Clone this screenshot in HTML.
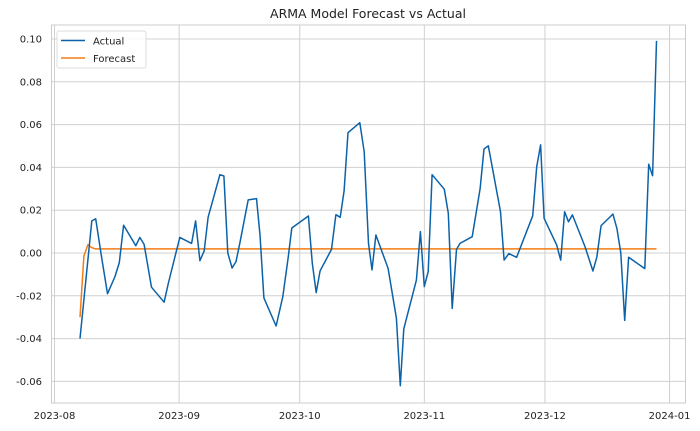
<!DOCTYPE html>
<html><head><meta charset="utf-8"><style>
body{margin:0;background:#fff;}
svg{display:block;font-family:"DejaVu Sans","Liberation Sans",sans-serif;}
</style></head><body>
<svg id="chart" width="700" height="431" xmlns="http://www.w3.org/2000/svg">
<rect x="0" y="0" width="700" height="431" fill="#fff"/>
<text x="368" y="18" font-size="12.5" text-anchor="middle" fill="#222">ARMA Model Forecast vs Actual</text>
<g id="grid"></g>
<rect x="51.5" y="25" width="634" height="378" fill="none" stroke="#ccc" stroke-width="1"/>
<g id="series"></g>
<g id="legend">
<rect x="57" y="31" width="89" height="37" fill="#fff" fill-opacity="0.85" stroke="#ddd" rx="2"/>
<line x1="61" y1="40.5" x2="85" y2="40.5" stroke="#0c62a8" stroke-width="1.5"/>
<text x="93" y="44.5" font-size="10" fill="#222">Actual</text>
<line x1="61" y1="58" x2="85" y2="58" stroke="#f57c12" stroke-width="1.5"/>
<text x="93" y="62" font-size="10" fill="#222">Forecast</text>
</g>
</svg>
<script>
// days since 2023-08-01
const actualDays=[6.35,9.28,10.26,11.72,13.19,15.05,16.12,17.20,20.23,21.21,22.28,24.14,27.27,28.34,31.18,34.11,35.09,36.16,37.24,38.22,41.15,42.13,43.10,44.18,45.16,46.14,48.19,50.24,51.12,52.10,55.13,56.79,58.16,59.04,63.15,64.12,65.10,66.08,68.91,69.99,71.06,72.04,73.02,75.95,77.03,78.10,78.98,79.96,82.99,85.04,86.02,86.90,90.03,91.01,91.98,92.96,93.94,96.97,97.95,98.93,100.00,100.88,103.91,105.87,106.84,107.92,110.95,111.83,113.00,114.96,118.96,119.94,120.92,121.80,124.93,125.91,126.89,127.87,128.84,131.97,133.93,134.90,135.98,138.91,139.89,140.87,141.84,142.82,146.83,147.81,148.78,149.76];
const actualValues=[-0.040,0.015,0.016,-0.002,-0.019,-0.011,-0.0045,0.013,0.0034,0.0073,0.004,-0.016,-0.023,-0.014,0.0073,0.0045,0.015,-0.0036,0.001,0.0167,0.0366,0.036,0.0,-0.007,-0.004,0.005,0.0248,0.0254,0.0084,-0.021,-0.0341,-0.0204,-0.0017,0.0117,0.0173,-0.0048,-0.0185,-0.0083,0.0017,0.0179,0.0167,0.029,0.0562,0.0609,0.0473,0.0045,-0.0079,0.0084,-0.0072,-0.0305,-0.062,-0.0354,-0.0126,0.010,-0.0157,-0.0087,0.0366,0.0298,0.0186,-0.0259,0.0017,0.0045,0.0076,0.0300,0.0486,0.0501,0.0193,-0.0033,-0.0003,-0.002,0.0174,0.0403,0.0505,0.0162,0.0037,-0.0033,0.0193,0.0146,0.0178,0.003,-0.0084,-0.002,0.0128,0.0182,0.0115,0.0,-0.0315,-0.002,-0.0073,0.0415,0.0361,0.0991];
const forecastDays=[6.35,7.32,8.30,9.28,10.26,149.76];
const forecastValues=[-0.030,-0.0014,0.0039,0.0025,0.0019,0.0019];
const xTickDays=[0,31,61,92,122,153];
const xTickLabels=["2023-08","2023-09","2023-10","2023-11","2023-12","2024-01"];
const yTicks=[-0.06,-0.04,-0.02,0.00,0.02,0.04,0.06,0.08,0.10];

const NS="http://www.w3.org/2000/svg";
const L=51.5,R=685.5,T=25,B=403;
function xs(d){return 54.5+d*4.02;}
function ys(v){return 253-v*2140;}
const grid=document.getElementById('grid'), series=document.getElementById('series');
function mk(tag,attrs,parent){const e=document.createElementNS(NS,tag);for(const k in attrs)e.setAttribute(k,attrs[k]);parent.appendChild(e);return e;}
yTicks.forEach(v=>{
  const y=ys(v);
  const g=mk('line',{x1:L,x2:R,y1:y,y2:y,stroke:'#d0d0d0','stroke-width':1},grid);
  
  
  const t=mk('text',{x:42,y:y+3.5,'font-size':10,'text-anchor':'end',fill:'#222'},grid);
  t.textContent=v.toFixed(2);
  
  
});
xTickDays.forEach((d,i)=>{
  const x=xs(d);
  const g=mk('line',{x1:x,x2:x,y1:T,y2:B,stroke:'#d0d0d0','stroke-width':1},grid);
  
  
  const t=mk('text',{x:x,y:419,'font-size':10,'text-anchor':'middle',fill:'#222'},grid);
  t.textContent=xTickLabels[i];
  
  
});
function line(days,vals,color,name){
  const pts=days.map((d,i)=>xs(d).toFixed(1)+','+ys(vals[i]).toFixed(1)).join(' ');
  const p=mk('polyline',{points:pts,fill:'none',stroke:color,'stroke-width':1.5,'stroke-linejoin':'round'},series);
  
  
}
line(forecastDays,forecastValues,'#f57c12','forecast-line');
line(actualDays,actualValues,'#0c62a8','actual-line');
</script>
</body></html>
